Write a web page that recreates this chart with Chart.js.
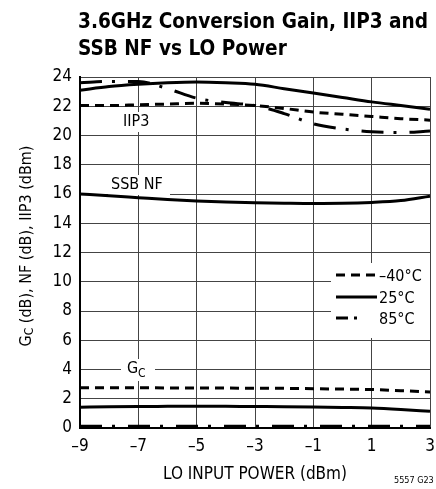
<!DOCTYPE html>
<html>
<head>
<meta charset="utf-8">
<script src="https://cdn.jsdelivr.net/npm/chart.js@4/dist/chart.umd.min.js"></script>
<style>
  html, body { margin: 0; padding: 0; background: #fff; }
  #wrap { width: 436px; height: 489px; position: relative; }
</style>
</head>
<body>
<div id="wrap"><canvas id="gainChart"></canvas></div>
<script>
const loPower = [-9, -8, -7, -6, -5, -4, -3, -2, -1, 0, 1, 2, 3];
const xTicks = [-9, -7, -5, -3, -1, 1, 3];
const yTicks = [0, 2, 4, 6, 8, 10, 12, 14, 16, 18, 20, 22, 24];

const iip3Minus40 = [22.05, 22.05, 22.1, 22.15, 22.2, 22.15, 22.05, 21.85, 21.6, 21.45, 21.3, 21.15, 21.05];
const iip3Room = [23.1, 23.35, 23.5, 23.6, 23.65, 23.6, 23.5, 23.2, 22.9, 22.6, 22.3, 22.05, 21.8];
const iip3Plus85 = [23.6, 23.7, 23.7, 23.2, 22.55, 22.25, 22.05, 21.5, 20.8, 20.45, 20.25, 20.2, 20.3];
const nfRoom = [16.0, 15.88, 15.75, 15.62, 15.52, 15.45, 15.4, 15.37, 15.35, 15.36, 15.42, 15.55, 15.85];
const gcMinus40 = [2.75, 2.75, 2.75, 2.74, 2.74, 2.73, 2.72, 2.71, 2.69, 2.66, 2.63, 2.55, 2.47];
const gcRoom = [1.42, 1.45, 1.47, 1.48, 1.49, 1.48, 1.47, 1.46, 1.44, 1.41, 1.37, 1.27, 1.14];
const gcPlus85 = [0.12, 0.12, 0.12, 0.12, 0.12, 0.12, 0.12, 0.12, 0.12, 0.12, 0.12, 0.12, 0.12];

const FONT = '"Liberation Sans Narrow", "Arial Narrow", "DejaVu Sans Condensed", sans-serif';
const DASHED = [9, 6];
const DASHDOT = [22, 10, 3, 13];

function pts(vals) {
  return vals.map((v, i) => ({ x: loPower[i], y: v }));
}
function line(vals, dash) {
  return {
    data: pts(vals),
    borderColor: '#000',
    borderWidth: 3,
    borderDash: dash,
    pointRadius: 0,
    cubicInterpolationMode: 'monotone',
    fill: false
  };
}

// title, axis title, curve labels and legend drawn by hand
const annotations = {
  id: 'annotations',
  beforeDatasetsDraw(chart) {
    const c = chart.ctx;
    c.save();
    c.fillStyle = '#fff';
    c.fillRect(120, 112, 36, 20);   // IIP3
    c.fillRect(108, 175, 62, 20);   // SSB NF
    c.fillRect(121, 359, 34, 22);   // GC
    c.fillRect(331, 263, 99, 75);   // legend box
    c.fillStyle = '#000';
    c.font = '16px ' + FONT;
    c.textBaseline = 'middle';
    c.textAlign = 'left';
    c.fillText('IIP3', 123, 122);
    c.fillText('SSB NF', 111, 185);
    c.fillText('G', 127, 369);
    c.font = '12px ' + FONT;
    c.fillText('C', 138, 374);
    c.restore();
  },
  afterDraw(chart) {
    const c = chart.ctx;
    c.save();
    c.fillStyle = '#000';
    c.textBaseline = 'alphabetic';
    c.textAlign = 'left';
    c.font = 'bold 21px ' + FONT;
    const line1 = '3.6GHz Conversion Gain, IIP3 and';
    const k = 350 / c.measureText(line1).width;
    c.save();
    c.translate(78, 0);
    c.scale(k, 1);
    c.fillText(line1, 0, 28);
    c.fillText('SSB NF vs LO Power', 0, 55);
    c.restore();

    // legend
    const rows = [['\u201340\u00b0C', DASHED, 276], ['25\u00b0C', [], 298], ['85\u00b0C', DASHDOT, 319]];
    c.font = '16px ' + FONT;
    c.textBaseline = 'middle';
    rows.forEach(([txt, dash, y]) => {
      c.beginPath();
      c.setLineDash(dash === DASHDOT ? [12, 6, 3, 20] : dash);
      c.lineWidth = 3;
      c.strokeStyle = '#000';
      c.moveTo(336, y - 1);
      c.lineTo(377, y - 1);
      c.stroke();
      c.setLineDash([]);
      c.fillText(txt, 379, y + 1);
    });

    // y axis title with subscript
    c.translate(27, 246);
    c.rotate(-Math.PI / 2);
    const parts = [['G', 16, 0], ['C', 12, 3], [' (dB), NF (dB), IIP3 (dBm)', 16, 0]];
    let w = 0;
    parts.forEach(([t, s]) => { c.font = s + 'px ' + FONT; w += c.measureText(t).width; });
    let x = -w / 2;
    parts.forEach(([t, s, dy]) => {
      c.font = s + 'px ' + FONT;
      c.fillText(t, x, dy);
      x += c.measureText(t).width;
    });
    c.restore();

    c.save();
    c.fillStyle = '#000';
    c.font = '9px ' + FONT;
    c.textBaseline = 'middle';
    c.fillText('5557 G23', 394, 481);
    c.restore();
  }
};

new Chart(document.getElementById('gainChart'), {
  type: 'line',
  data: {
    datasets: [
      line(iip3Minus40, DASHED),
      line(iip3Room, []),
      line(iip3Plus85, DASHDOT),
      line(nfRoom, []),
      line(gcMinus40, DASHED),
      line(gcRoom, []),
      line(gcPlus85, DASHDOT)
    ]
  },
  plugins: [annotations],
  options: {
    responsive: true,
    maintainAspectRatio: false,
    animation: false,
    layout: { padding: { top: 77, right: 6, left: 0, bottom: 0 } },
    plugins: { legend: { display: false }, tooltip: { enabled: false } },
    scales: {
      x: {
        type: 'linear',
        min: -9,
        max: 3,
        afterFit(scale) {
          scale.height = 61;
          scale.paddingLeft = 0;
          scale.paddingRight = 0;
        },
        afterBuildTicks(scale) { scale.ticks = xTicks.map(v => ({ value: v })); },
        grid: { color: '#444', lineWidth: 1, drawTicks: false },
        border: { color: '#000', width: 2 },
        ticks: {
          color: '#000',
          padding: 8,
          font: { family: FONT, size: 17 },
          callback: v => String(v).replace('-', '\u2013')
        },
        title: {
          display: true,
          text: 'LO INPUT POWER (dBm)',
          color: '#000',
          font: { family: FONT, size: 17 },
          padding: { top: 0 }
        }
      },
      y: {
        min: 0,
        max: 24,
        afterFit(scale) {
          scale.width = 80;
          scale.paddingTop = 0;
          scale.paddingBottom = 0;
        },
        afterBuildTicks(scale) { scale.ticks = yTicks.map(v => ({ value: v })); },
        grid: { color: '#444', lineWidth: 1, drawTicks: false },
        border: { color: '#000', width: 2 },
        ticks: {
          color: '#000',
          padding: 8,
          font: { family: FONT, size: 17 }
        }
      }
    }
  }
});
</script>
</body>
</html>
